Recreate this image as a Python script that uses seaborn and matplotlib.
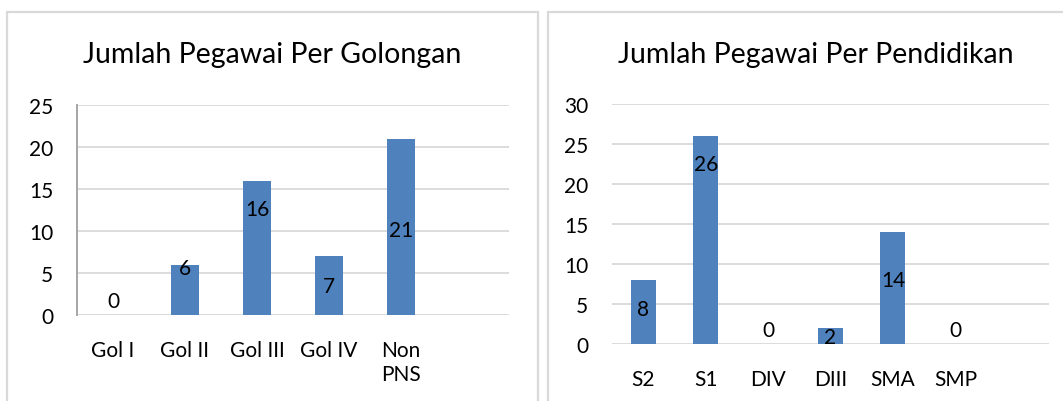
import matplotlib
matplotlib.use('Agg')
import matplotlib.pyplot as plt
from matplotlib.patches import Rectangle
import seaborn as sns
import pandas as pd

# data
gol_labels = ['Gol I', 'Gol II', 'Gol III', 'Gol IV', 'Non\nPNS']
gol_values = [0, 6, 16, 7, 21]

pend_labels = ['S2', 'S1', 'DIV', 'DIII', 'SMA', 'SMP']
pend_values = [8, 26, 0, 2, 14, 0]

# where the value labels sit (data units), as in the original
gol_label_y = [1.7, 5.6, 12.6, 3.45, 10.1]
pend_label_y = [4.4, 22.5, 1.75, 0.9, 8.0, 1.75]

BAR = '#4F81BD'
GRID = '#D9D9D9'
FONT = ['Lato', 'DejaVu Sans']

sns.set_style('white')
plt.rcParams['font.family'] = FONT

fig = plt.figure(figsize=(10.63, 4.02), dpi=100)
W, H = 1063, 402


def px_box(x0, y0, x1, y1):
    # pixel box (top-left origin) -> figure fraction [l, b, w, h]
    return [x0 / W, 1 - y1 / H, (x1 - x0) / W, (y1 - y0) / H]


# chart borders
for x0, x1 in [(7, 538), (548, 1100)]:
    fig.patches.append(Rectangle((x0 / W, -0.1), (x1 - x0) / W, 1.1 - 13 / H,
                                 transform=fig.transFigure, fill=False,
                                 edgecolor=GRID, linewidth=1.6))


def draw(ax, labels, values, label_y, ymax, left_spine):
    df = pd.DataFrame({'cat': labels, 'val': values})
    sns.barplot(data=df, x='cat', y='val', ax=ax, color=BAR, width=0.4,
                saturation=1, linewidth=0, zorder=3)
    ax.set_xlim(-0.5, len(labels) + 0.5)
    ax.set_ylim(0, ymax)
    ax.set_yticks(range(0, ymax + 1, 5))
    ax.set_xlabel('')
    ax.set_ylabel('')
    ax.yaxis.grid(True, color=GRID, linewidth=1.3, zorder=0)
    ax.set_axisbelow(True)
    for s in ['top', 'right', 'bottom']:
        ax.spines[s].set_visible(False)
    if left_spine:
        ax.spines['left'].set_color('#A6A6A6')
        ax.spines['left'].set_linewidth(1.4)
    else:
        ax.spines['left'].set_visible(False)
    ax.tick_params(axis='both', length=0, labelsize=15, colors='black')
    ax.tick_params(axis='y', pad=17)
    ax.tick_params(axis='x', pad=18)
    for lab in ax.get_xticklabels():
        lab.set_horizontalalignment('center')
        lab.set_multialignment('center')
        lab.set_verticalalignment('top')
        lab.set_linespacing(1.25)
    for i, (v, y) in enumerate(zip(values, label_y)):
        ax.text(i, y, str(v), ha='center', va='center', fontsize=15,
                color='black', zorder=4)


ax1 = fig.add_axes(px_box(77, 106, 509, 316))
draw(ax1, gol_labels, gol_values, gol_label_y, 25, True)

ax2 = fig.add_axes(px_box(612, 105, 1049, 345))
draw(ax2, pend_labels, pend_values, pend_label_y, 30, False)

fig.text(272.5 / W, 1 - 55 / H, 'Jumlah Pegawai Per Golongan', ha='center',
         va='center', fontsize=20.5, color='black')
fig.text(816 / W, 1 - 55 / H, 'Jumlah Pegawai Per Pendidikan', ha='center',
         va='center', fontsize=20.5, color='black')

fig.savefig('out.png', dpi=100)
